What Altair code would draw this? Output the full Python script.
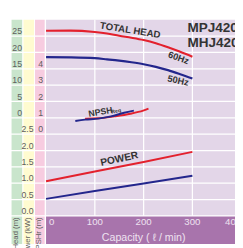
import altair as alt
import pandas as pd

# ---- data ----
capacity = [0, 50, 100, 125, 150, 175, 200, 225, 250, 275, 300]
head_60 = [26.66, 26.7, 26.27, 25.8, 25.1, 24.5, 23.8, 22.85, 21.6, 20.2, 18.7]
head_50 = [18.56, 18.5, 18.27, 17.9, 17.5, 17.0, 16.4, 15.6, 14.6, 13.35, 12.0]

npsh_cap_60 = [80, 107, 140, 173, 199, 210]
npsh_60 = [0.95, 0.97, 1.09, 1.25, 1.44, 1.56]
npsh_cap_50 = [60, 80, 107, 133, 160, 180]
npsh_50 = [0.81, 0.89, 0.95, 1.09, 1.31, 1.44]

power_cap = [0, 100, 200, 300]
power_60 = [1.06, 1.36, 1.65, 1.96]
power_50 = [0.52, 0.76, 0.99, 1.23]

head_ticks = [25, 20, 15, 10, 5, 0]
power_ticks = [2.5, 2.0, 1.5, 1.0, 0.5, 0.0]
npsh_ticks = [4, 3, 2, 1, 0]
capacity_ticks = [0, 100, 200, 300, 400]
grid_levels = [25, 20, 15, 10, 5, 0, -5, -10, -15, -20, -25, -30]

models = ["MPJ420", "MHJ420"]
axis_names = ["Total Head (m)", "Power (kW)", "NPSHr (m)"]
x_title = "Capacity ( ℓ / min)"

RED = "#E3212D"
BLUE = "#23268C"

# ---- common scales (head metres; power and NPSH mapped onto the same grid) ----
XS = alt.Scale(domain=[-78, 387.33], nice=False, zero=False)
YS = alt.Scale(domain=[-38.58, 32.36], nice=False, zero=False)


def X(f="x"):
    return alt.X(f"{f}:Q", scale=XS, axis=None)


def Y(f="u"):
    return alt.Y(f"{f}:Q", scale=YS, axis=None)


# ---- curves ----
rows = []
for q, h in zip(capacity, head_60):
    rows.append(dict(x=q, u=h, s="h60", c=RED))
for q, h in zip(capacity, head_50):
    rows.append(dict(x=q, u=h, s="h50", c=BLUE))
curves_head = pd.DataFrame(rows)

rows = []
for q, n in zip(npsh_cap_60, npsh_60):
    rows.append(dict(x=q, n=n, s="n60", c=RED))
for q, n in zip(npsh_cap_50, npsh_50):
    rows.append(dict(x=q, n=n, s="n50", c=BLUE))
curves_npsh = pd.DataFrame(rows)

rows = []
for q, p in zip(power_cap, power_60):
    rows.append(dict(x=q, p=p, s="p60", c=RED))
for q, p in zip(power_cap, power_50):
    rows.append(dict(x=q, p=p, s="p50", c=BLUE))
curves_power = pd.DataFrame(rows)

# ---- layout backgrounds ----
bands = pd.DataFrame([
    dict(x=-70.7, x2=-48.9, y=-38.58, y2=30, c="#C9E5CC"),
    dict(x=-46.3, x2=-24.6, y=-38.58, y2=30, c="#FFFBD0"),
    dict(x=-22.6, x2=-2.8, y=-38.58, y2=30, c="#F7CCE0"),
    dict(x=0, x2=387.33, y=-30, y2=30, c="#E3D6E8"),
    dict(x=0, x2=387.33, y=-38.58, y2=-30, c="#A874AC"),
])
bg = alt.Chart(bands).mark_rect().encode(
    x=X("x"), x2="x2:Q", y=Y("y"), y2="y2:Q", color=alt.Color("c:N", scale=None)
)

hgrid = alt.Chart(pd.DataFrame({"u": grid_levels})).transform_calculate(
    x0="-72", x1="387.33"
).mark_rule(color="white", strokeWidth=1.3).encode(x=X("x0"), x2="x1:Q", y=Y("u"))

vgrid = alt.Chart(pd.DataFrame({"x": capacity_ticks[1:4]})).transform_calculate(
    y0="-30", y1="30"
).mark_rule(color="white", strokeWidth=1.3).encode(x=X("x"), y=Y("y0"), y2="y1:Q")

# ---- curves layers ----
line_head = alt.Chart(curves_head).mark_line(strokeWidth=2.2, interpolate="monotone").encode(
    x=X("x"), y=Y("u"), color=alt.Color("c:N", scale=None), detail="s:N"
)
line_npsh = alt.Chart(curves_npsh).transform_calculate(u="5*datum.n - 5").mark_line(
    strokeWidth=2, interpolate="monotone"
).encode(x=X("x"), y=Y("u"), color=alt.Color("c:N", scale=None), detail="s:N")
line_power = alt.Chart(curves_power).transform_calculate(u="10*datum.p - 30").mark_line(
    strokeWidth=2
).encode(x=X("x"), y=Y("u"), color=alt.Color("c:N", scale=None), detail="s:N")

# ---- tick labels in the coloured columns ----
FONT = "Liberation Sans"
LBL = "#5E5E5E"
head_lbl = alt.Chart(pd.DataFrame({"v": head_ticks})).transform_calculate(
    u="datum.v", x="-49.3", t="format(datum.v, 'd')"
).mark_text(align="right", baseline="bottom", font=FONT, fontSize=9, color=LBL).encode(
    x=X("x"), y=Y("u"), text="t:N"
)
power_lbl = alt.Chart(pd.DataFrame({"v": power_ticks})).transform_calculate(
    u="10*datum.v - 30", x="-25.5", t="format(datum.v, '.1f')"
).mark_text(align="right", baseline="bottom", font=FONT, fontSize=9, color=LBL).encode(
    x=X("x"), y=Y("u"), text="t:N"
)
npsh_lbl = alt.Chart(pd.DataFrame({"v": npsh_ticks})).transform_calculate(
    u="5*datum.v - 5", x="-5.9", t="format(datum.v, 'd')"
).mark_text(align="right", baseline="bottom", font=FONT, fontSize=9, color=LBL).encode(
    x=X("x"), y=Y("u"), text="t:N"
)

cap_df = pd.DataFrame({"x": capacity_ticks})
CAPC = "#EEE2F0"
cap_lbl = alt.Chart(cap_df).transform_filter("datum.x > 0 && datum.x < 400").transform_calculate(
    u="-32.67", t="format(datum.x, 'd')"
).mark_text(align="center", baseline="alphabetic", font=FONT, fontSize=10, color=CAPC).encode(
    x=X("x"), y=Y("u"), text="t:N"
)
cap_lbl0 = alt.Chart(cap_df).transform_filter("datum.x == 0").transform_calculate(
    u="-32.67", t="format(datum.x, 'd')"
).mark_text(align="left", baseline="alphabetic", font=FONT, fontSize=10, dx=3, color=CAPC).encode(
    x=X("x"), y=Y("u"), text="t:N"
)
cap_lbl_last = alt.Chart(cap_df).transform_filter("datum.x == 400").transform_calculate(
    u="-32.67", t="format(datum.x, 'd')"
).mark_text(align="right", baseline="alphabetic", font=FONT, fontSize=10, color=CAPC).encode(
    x=X("x"), y=Y("u"), text="t:N"
)
xtitle = alt.Chart(pd.DataFrame({"t": [x_title]})).transform_calculate(
    x="200", u="-37.84"
).mark_text(align="center", baseline="alphabetic", font=FONT, fontSize=11, color=CAPC).encode(
    x=X("x"), y=Y("u"), text="t:N"
)

col_names = alt.Chart(pd.DataFrame({"t": axis_names, "x": [-60.8, -37.8, -14.7]})).transform_calculate(
    u="-30.45"
).mark_text(angle=270, align="right", baseline="middle", font=FONT, fontSize=8, color=LBL).encode(
    x=X("x"), y=Y("u"), text="t:N"
)

# ---- annotations ----
ann = pd.DataFrame([
    dict(t="TOTAL HEAD", x=172.5, u=26.75, a=9, fs=10),
    dict(t="60Hz", x=271.5, u=18.3, a=20, fs=9.5),
    dict(t="50Hz", x=270.5, u=11.38, a=12, fs=9.5),
    dict(t="NPSH", x=111.5, u=1.83, a=350, fs=9),
    dict(t="Req", x=143.5, u=2.1, a=350, fs=5.5),
    dict(t="POWER", x=150.3, u=-12.65, a=348, fs=10.5),
])
ann_lbl = alt.Chart(ann).mark_text(
    align="center", baseline="middle", font=FONT, fontWeight="bold", color="#333333"
).encode(
    x=X("x"), y=Y("u"), text="t:N",
    angle=alt.Angle("a:Q", scale=None), size=alt.Size("fs:Q", scale=None),
)

titles = alt.Chart(pd.DataFrame({"t": models, "u": [26.36, 21.58]})).transform_calculate(
    x="290"
).mark_text(align="left", baseline="alphabetic", font=FONT, fontWeight="bold", fontSize=14,
            color="#333333").encode(x=X("x"), y=Y("u"), text="t:N")

chart = alt.layer(
    bg, hgrid, vgrid, line_power, line_npsh, line_head,
    head_lbl, power_lbl, npsh_lbl, cap_lbl, cap_lbl0, cap_lbl_last, xtitle, col_names,
    ann_lbl, titles,
).properties(
    width=235, height=240, padding=0, background="white",
    autosize=alt.AutoSizeParams(type="none"),
).configure_view(stroke=None)

chart.save("out.html", embed_options={"renderer": "svg", "actions": False})
